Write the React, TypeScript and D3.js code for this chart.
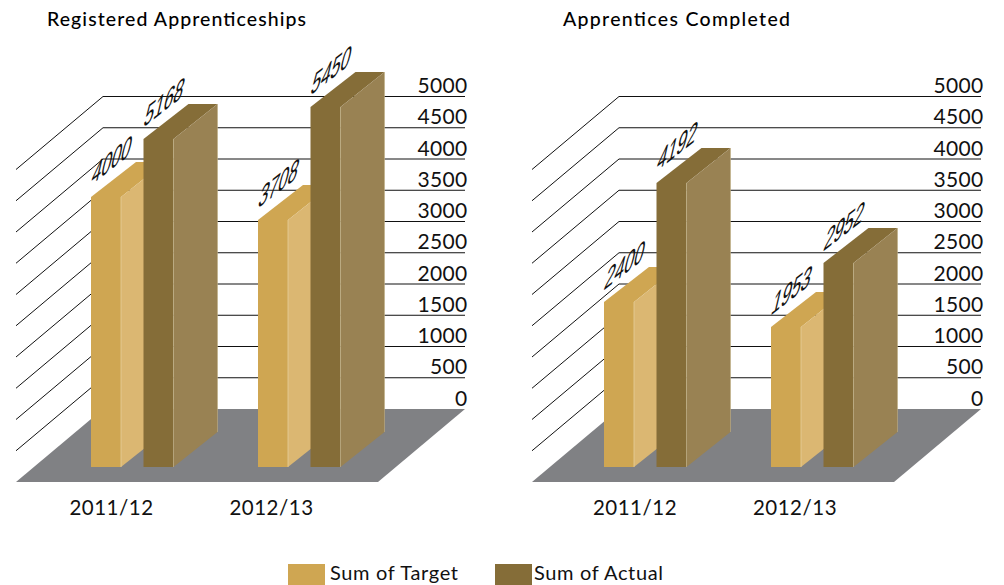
import React from "react";
import * as d3 from "d3";

const categories = ["2011/12", "2012/13"];
const seriesNames = ["Sum of Target", "Sum of Actual"];
const ticks = [0, 500, 1000, 1500, 2000, 2500, 3000, 3500, 4000, 4500, 5000];

const regTarget = [4000, 3708];
const regActual = [5168, 5450];
const compTarget = [2400, 1953];
const compActual = [4192, 2952];

// Heights the bars are drawn at in axis units
const regTargetDrawn = [4320, 3952];
const regActualDrawn = [5248, 5760];
const compTargetDrawn = [2640, 2240];
const compActualDrawn = [4544, 3264];

const FONT = "Lato, 'Open Sans', sans-serif";
const C = {
  targetFront: "#CFA652", targetSide: "#DBB772", actualFront: "#856D38", actualSide: "#998253",
  floor: "#808184", targetEdge: "#E6CE9C", actualEdge: "#BFAE85",
};

const gridY = d3.scaleLinear().domain([0, 5000]).range([409, 96.5]);
const barY = d3.scaleLinear().domain([0, 5000]).range([467, 154.5]);
const catX = d3.scalePoint().domain(categories).range([91, 258]);
const catLabelX = d3.scalePoint().domain(categories).range([111.5, 271.5]);
const seriesX = d3.scalePoint().domain(seriesNames).range([0, 52.5]);
const BAR_W = 30;
const DX = 44;
const DY = 35;
const GRID_DX = 87;
const GRID_DY = 73;
const pts = (p: number[][]) => p.map((d) => d.join(",")).join(" ");

function Bar({ x, top, front, side, edge, label }: any) {
  const base = barY(0);
  const xr = x + BAR_W;
  return (
    <g>
      <polygon points={pts([[x, top], [xr, top], [xr + DX, top - DY], [x + DX + 1, top - DY]])} fill={front} />
      <polygon points={pts([[xr, top], [xr + DX, top - DY], [xr + DX, base - DY], [xr, base]])} fill={side} />
      <rect x={x} y={top} width={BAR_W} height={base - top} fill={front} />
      <line x1={xr} x2={xr} y1={top} y2={base} stroke={edge} strokeWidth={0.8} />
      <line x1={xr + DX} x2={xr + DX} y1={top - DY} y2={base - DY} stroke={edge} strokeWidth={0.6} />
      <text
        transform={`translate(${x - 1},${top - 11}) skewY(-38) skewX(-16) scale(1,1.5)`}
        fontFamily="'Liberation Sans', sans-serif" fontSize={17.5} fill="#111"
      >{label}</text>
    </g>
  );
}

function Panel({ title, titleX, titleW, gridShift, barShift, catShift, target, actual, targetDrawn, actualDrawn }: any) {
  const left = 16 + gridShift;
  const back = left + GRID_DX;
  const right = 465 + gridShift;
  const floorY = gridY(0);
  return (
    <g>
      <text x={titleX} y={26} textLength={titleW} lengthAdjust="spacing" fontFamily={FONT} fontSize={19.5} fontWeight={500} fill="#000">{title}</text>
      {ticks.filter((t) => t > 0).map((t) => (
        <path key={t} d={`M${left},${gridY(t) + GRID_DY}L${back},${gridY(t)}H${right}`} fill="none" stroke="#111" strokeWidth={1} />
      ))}
      <polygon points={pts([[left, floorY + GRID_DY], [back, floorY], [right, floorY], [right - GRID_DX, floorY + GRID_DY]])} fill={C.floor} />
      {ticks.map((t) => (
        <text key={t} x={right + 2.5} y={gridY(t) - 3.5} textAnchor="end" letterSpacing={0.3} fontFamily={FONT} fontSize={21} fill="#111">{t}</text>
      ))}
      {categories.map((c, i) => {
        const x = catX(c)! + barShift;
        return (
          <g key={c}>
            <Bar x={x + seriesX(seriesNames[0])!} top={barY(targetDrawn[i])} front={C.targetFront} side={C.targetSide} edge={C.targetEdge} label={target[i]} />
            <Bar x={x + seriesX(seriesNames[1])!} top={barY(actualDrawn[i])} front={C.actualFront} side={C.actualSide} edge={C.actualEdge} label={actual[i]} />
          </g>
        );
      })}
      {categories.map((c) => (
        <text key={c} x={catLabelX(c)! + catShift} y={515} textAnchor="middle" letterSpacing={0.5} fontFamily={FONT} fontSize={20.5} fill="#111">{c}</text>
      ))}
    </g>
  );
}

export default function App() {
  const legendX = [288, 495];
  const legendTextX = [330, 534];
  return (
    <svg width={1004} height={585} style={{ position: "absolute", left: 0, top: 0, background: "#fff" }}>
      <Panel title="Registered Apprenticeships" titleX={47} titleW={259} gridShift={0} barShift={0} catShift={0}
        target={regTarget} actual={regActual} targetDrawn={regTargetDrawn} actualDrawn={regActualDrawn} />
      <Panel title="Apprentices Completed" titleX={563} titleW={227} gridShift={516} barShift={513} catShift={523.5}
        target={compTarget} actual={compActual} targetDrawn={compTargetDrawn} actualDrawn={compActualDrawn} />
      {seriesNames.map((s, i) => (
        <g key={s}>
          <rect x={legendX[i]} y={564} width={37} height={21} fill={i === 0 ? C.targetFront : C.actualFront} />
          <text x={legendTextX[i]} y={580} textLength={i === 0 ? 128 : 129} lengthAdjust="spacing" fontFamily={FONT} fontSize={20} fill="#111">{s}</text>
        </g>
      ))}
    </svg>
  );
}
